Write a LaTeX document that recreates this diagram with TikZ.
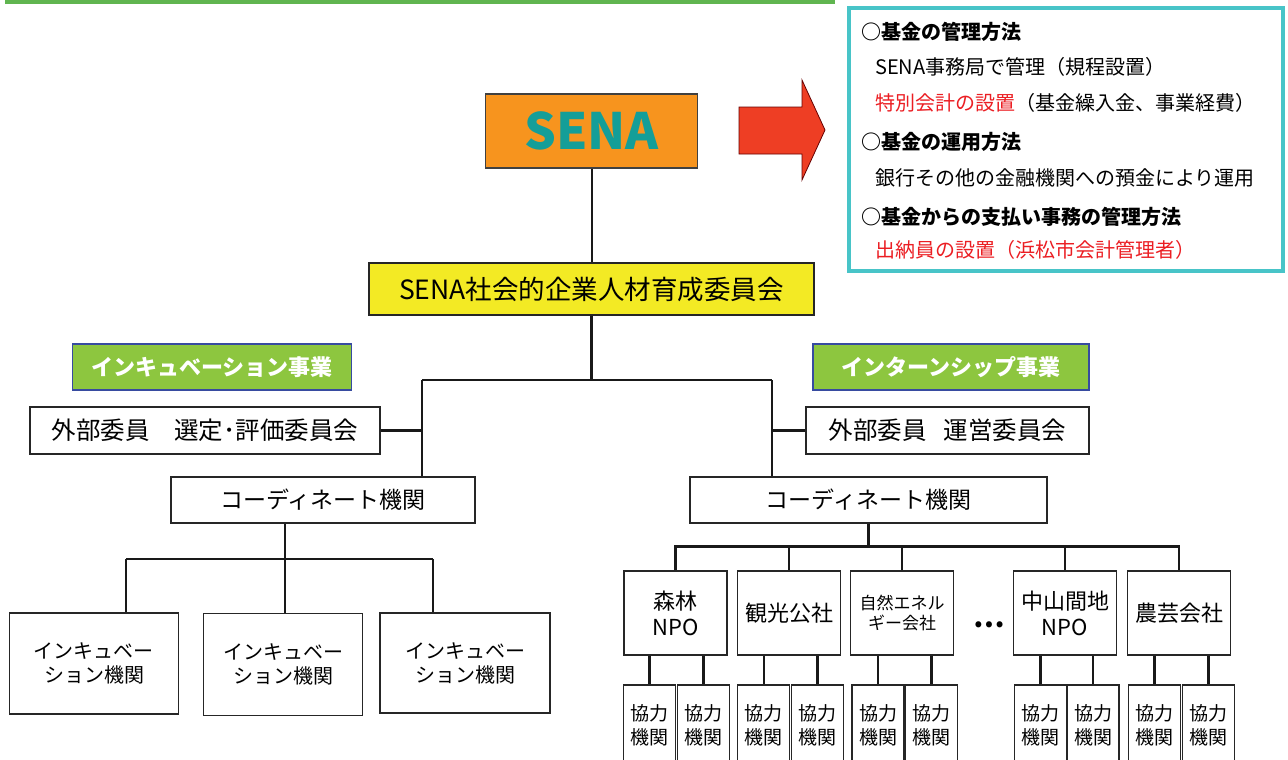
\documentclass[tikz,border=0pt]{standalone}
\usepackage{fontspec}
\setmainfont{Noto Sans CJK JP}
\definecolor{senaorange}{RGB}{247,148,30}
\definecolor{senateal}{RGB}{20,158,152}
\definecolor{iinyellow}{RGB}{243,234,36}
\definecolor{taggreen}{RGB}{141,198,63}
\definecolor{tagblue}{RGB}{55,75,160}
\definecolor{topgreen}{RGB}{96,181,80}
\definecolor{infoteal}{RGB}{72,196,200}
\definecolor{notered}{RGB}{235,30,35}
\definecolor{arrowred}{RGB}{238,62,36}

\begin{document}
\begin{tikzpicture}[x=1pt,y=-1pt,
  box/.style={draw=black!85,line width=1.3pt,fill=white,inner sep=0pt,align=center,font=\fontsize{24.5}{28}\selectfont},
  tag/.style={box,draw=tagblue,fill=taggreen,text=white,font=\fontsize{22}{26}\selectfont\bfseries},
  inc/.style={box,font=\fontsize{20}{24}\selectfont},
  org/.style={box,minimum width=103pt,minimum height=84pt,font=\fontsize{22}{26}\selectfont},
  sub/.style={box,minimum width=52pt,minimum height=80pt,font=\fontsize{19}{24}\selectfont},
  note/.style={anchor=west,inner sep=0pt,font=\fontsize{20}{24}\selectfont},
  tree/.style={line width=2.5pt,black!90},
  stem/.style={line width=2pt,black!90}]

  \useasboundingbox (0,0) rectangle (1288,760);
  \clip (0,0) rectangle (1288,760);

  \draw[line width=4pt,topgreen] (5,2) -- (835,2);

  \node[box,minimum width=212pt,minimum height=74pt,fill=senaorange,draw=black!75,text=senateal,font=\fontsize{50}{56}\selectfont\bfseries] (sena) at (591.5,131) {SENA};
  \draw[fill=arrowred,draw=black!60!red,line width=0.8pt] (739,107) -- (802,107) -- (802,80) -- (825,130) -- (802,180) -- (802,154) -- (739,154) -- cycle;

  \node[draw=infoteal,line width=4pt,minimum width=434pt,minimum height=263pt,inner sep=0pt] (info) at (1066,139.5) {};
  \node[note,font=\fontsize{20}{24}\selectfont\bfseries] (h1) at (861,31.7) {○基金の管理方法};
  \node[note] (l1) at (875,66.7) {SENA事務局で管理（規程設置）};
  \node[note] (l2) at (875,103) {\textcolor{notered}{特別会計の設置}（基金繰入金、事業経費）};
  \node[note,font=\fontsize{20}{24}\selectfont\bfseries] (h2) at (861,141.7) {○基金の運用方法};
  \node[note] (l3) at (875,178) {銀行その他の金融機関への預金により運用};
  \node[note,font=\fontsize{20}{24}\selectfont\bfseries] (h3) at (861,216.7) {○基金からの支払い事務の管理方法};
  \node[note,text=notered] (l4) at (875,250) {出納員の設置（浜松市会計管理者）};

  \node[box,minimum width=445pt,minimum height=52pt,fill=iinyellow,font=\fontsize{26.5}{30}\selectfont] (iinkai) at (591.5,289) {SENA社会的企業人材育成委員会};

  \node[tag,minimum width=279pt,minimum height=46pt] (incL) at (212,367) {インキュベーション事業};
  \node[tag,minimum width=276pt,minimum height=46pt] (incR) at (951,367) {インターンシップ事業};

  \node[box,minimum width=350pt,minimum height=47pt] (gaiL) at (205,430.5) {外部委員\hspace{1em}選定･評価委員会};
  \node[box,minimum width=283pt,minimum height=47pt] (gaiR) at (947.5,430.5) {外部委員\hspace{0.7em}運営委員会};

  \node[box,minimum width=304pt,minimum height=46pt,font=\fontsize{23}{26}\selectfont] (coL) at (323,500) {コーディネート機関};
  \node[box,minimum width=357pt,minimum height=46pt,font=\fontsize{23}{26}\selectfont] (coR) at (868.5,500) {コーディネート機関};

  \node[inc,minimum width=169pt,minimum height=101pt] (inc1) at (94,663.5) {インキュベー\\ション機関};
  \node[inc,minimum width=159pt,minimum height=102pt] (inc2) at (283,664.5) {インキュベー\\ション機関};
  \node[inc,minimum width=170pt,minimum height=100pt] (inc3) at (465,663) {インキュベー\\ション機関};

  \node[org] (a) at (675.4,613) {森林\\NPO};
  \node[org] (b) at (789,613) {観光公社};
  \node[org,font=\fontsize{17}{20}\selectfont] (c) at (902,613) {自然エネル\\ギー会社};
  \node[font=\fontsize{28}{28}\selectfont\bfseries] (dots) at (989,625) {…};
  \node[org] (d) at (1065,613) {中山間地\\NPO};
  \node[org] (e) at (1179,613) {農芸会社};

  \node[sub] (a1) at (649.5,725) {協力\\機関};
  \node[sub] (a2) at (703.5,725) {協力\\機関};
  \node[sub] (b1) at (763.8,725) {協力\\機関};
  \node[sub] (b2) at (817.5,725) {協力\\機関};
  \node[sub] (c1) at (878,725) {協力\\機関};
  \node[sub] (c2) at (931.5,725) {協力\\機関};
  \node[sub] (d1) at (1040.5,725) {協力\\機関};
  \node[sub] (d2) at (1093,725) {協力\\機関};
  \node[sub] (e1) at (1154.3,725) {協力\\機関};
  \node[sub] (e2) at (1208.3,725) {協力\\機関};

  \coordinate (split) at (591.5,380);
  \coordinate (jL) at (422,380);
  \coordinate (jR) at (772,380);
  \coordinate (busL) at (285,559);
  \coordinate (dropL) at (126,559);
  \coordinate (dropR) at (433,559);
  \coordinate (busR) at (868.5,546.7);

  \draw[stem] (sena) -- (iinkai);
  \draw[tree] (iinkai) -- (split);
  \draw[tree] (jL) -- (jR);
  \draw[tree] (jL) -- (jL |- coL.north);
  \draw[tree] (jR) -- (jR |- coR.north);
  \draw[tree] (gaiL) -- (gaiL.east -| jL);
  \draw[tree] (gaiR) -- (gaiR.west -| jR);

  \draw[tree] (coL.south -| busL) -- (inc2.north -| busL);
  \draw[tree] (dropL) -- (dropR);
  \draw[tree] (dropL) -- (dropL |- inc1.north);
  \draw[tree] (dropR) -- (dropR |- inc3.north);

  \draw[tree] (coR) -- (busR) -| (a);
  \draw[tree] (busR) -| (b);
  \draw[tree] (busR) -| (c);
  \draw[tree] (busR) -| (d);
  \draw[tree] (busR) -| (e);

  \path[tree] (a.south -| a1) edge (a1)
    (a.south -| a2) edge (a2)
    (b.south -| b1) edge (b1)
    (b.south -| b2) edge (b2)
    (c.south -| c1) edge (c1)
    (c.south -| c2) edge (c2)
    (d.south -| d1) edge (d1)
    (d.south -| d2) edge (d2)
    (e.south -| e1) edge (e1)
    (e.south -| e2) edge (e2);
\end{tikzpicture}
\end{document}
